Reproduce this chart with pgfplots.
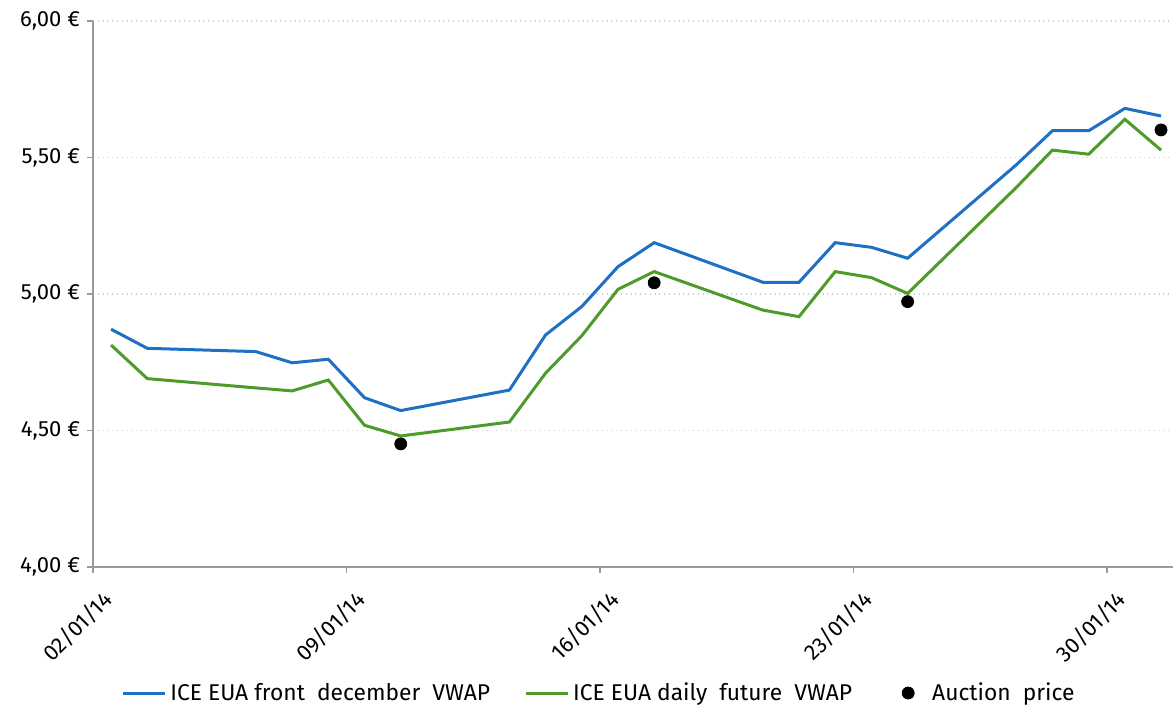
\documentclass[border=0pt]{standalone}
\usepackage{fontspec}
\setmainfont{Fira Sans}
\usepackage{pgfplots}
\pgfplotsset{compat=1.18}
\definecolor{cblue}{HTML}{1F70C4}
\definecolor{cgreen}{HTML}{4E9A2A}
\definecolor{axgray}{HTML}{9A9A9A}
\definecolor{gridgray}{HTML}{CCCCCC}
\pgfplotsset{
  linelegend/.style={legend image code/.code={\draw[##1] (0pt,0pt) -- (21pt,0pt);}},
  dotlegend/.style={legend image code/.code={\path[draw=none,fill=none] (0pt,0pt) -- (21pt,0pt); \fill[black] (11pt,0pt) circle (3pt);}},
}
\begin{document}
\begin{tikzpicture}
\begin{axis}[
  at={(0,0)}, anchor=south west,
  scale only axis, width=540pt, height=273pt,
  xmin=0, xmax=29.83, ymin=4, ymax=6,
  axis x line*=bottom, axis y line*=left,
  axis line style={axgray, line width=1pt, -},
  ytick={4,4.5,5,5.5,6},
  yticklabels={{4,00 €},{4,50 €},{5,00 €},{5,50 €},{6,00 €}},
  xtick={0,7,14,21,28},
  xticklabels={02/01/14,09/01/14,16/01/14,23/01/14,30/01/14},
  ymajorgrids, grid style={gridgray, dotted, line width=0.7pt},
  tick style={axgray, line width=0.8pt},
  tick align=outside, major tick length=3pt,
  xticklabel style={xshift=10pt, yshift=-9pt, rotate=45, anchor=east, font=\fontsize{11}{13}\selectfont},
  yticklabel style={font=\fontsize{11}{13}\selectfont},
  legend style={draw=none, fill=none, at={(0.4694,-0.2308)}, anchor=center,
    font=\fontsize{11.4}{13}\selectfont,
    /tikz/every even column/.append style={column sep=15pt}},
  legend columns=3,
]
\addplot[cblue, line width=1.5pt, linelegend] coordinates {
(0.5,4.871) (1.5,4.801) (4.5,4.789) (5.5,4.748) (6.5,4.761) (7.5,4.620)
(8.5,4.573) (11.5,4.648) (12.5,4.850) (13.5,4.954) (14.5,5.100) (15.5,5.188)
(18.5,5.043) (19.5,5.043) (20.5,5.188) (21.5,5.171) (22.5,5.131) (25.5,5.473)
(26.5,5.598) (27.5,5.598) (28.5,5.680) (29.5,5.652)};
\addlegendentry{ICE EUA front\ \ december\ \ VWAP}
\addplot[cgreen, line width=1.5pt, linelegend] coordinates {
(0.5,4.813) (1.5,4.690) (4.5,4.656) (5.5,4.645) (6.5,4.685) (7.5,4.519)
(8.5,4.480) (11.5,4.531) (12.5,4.710) (13.5,4.847) (14.5,5.017) (15.5,5.082)
(18.5,4.941) (19.5,4.917) (20.5,5.082) (21.5,5.060) (22.5,5.002) (25.5,5.390)
(26.5,5.527) (27.5,5.512) (28.5,5.640) (29.5,5.527)};
\addlegendentry{ICE EUA daily\ \ future\ \ VWAP}
\addplot[only marks, mark=*, mark size=3pt, black, dotlegend]
  coordinates {(8.5,4.451) (15.5,5.041) (22.5,4.972) (29.5,5.601)};
\addlegendentry{Auction\ \ price}
\end{axis}
\pgfresetboundingbox
\path[use as bounding box] (-46.5pt,-69.5pt) rectangle (540pt,283.5pt);
\end{tikzpicture}
\end{document}
